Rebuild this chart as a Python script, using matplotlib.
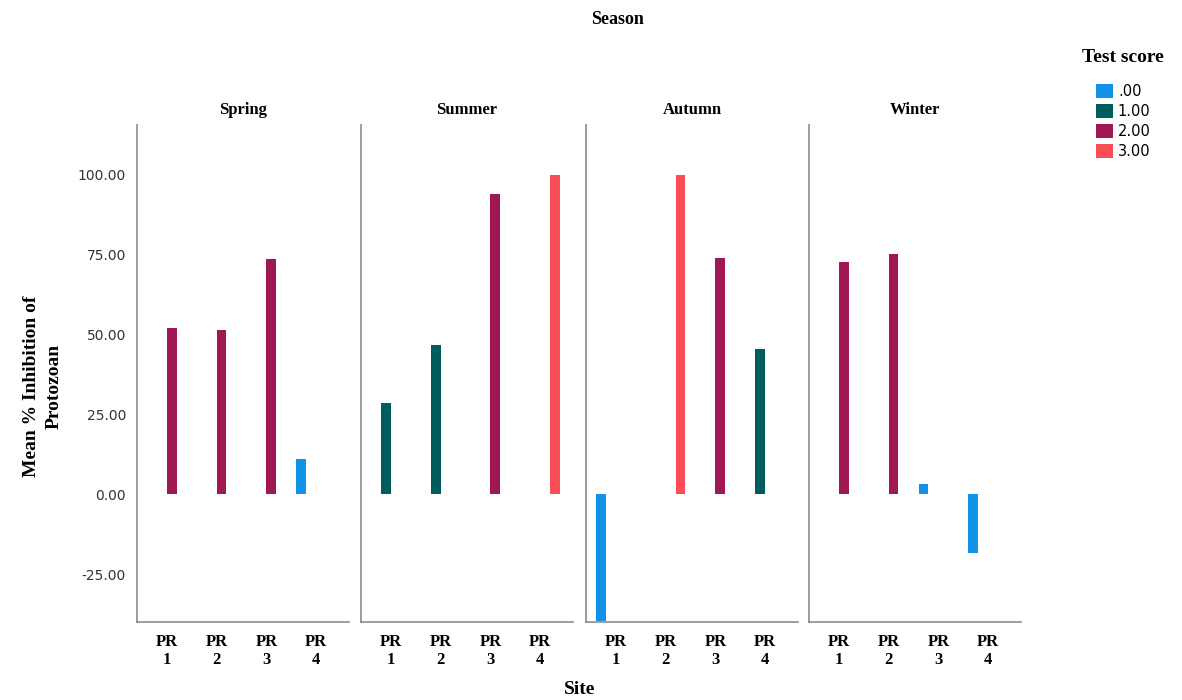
import matplotlib
matplotlib.use("Agg")
import matplotlib.pyplot as plt
from matplotlib.patches import Patch

seasons = ["Spring", "Summer", "Autumn", "Winter"]
sites = ["PR\n1", "PR\n2", "PR\n3", "PR\n4"]
score_labels = [".00", "1.00", "2.00", "3.00"]
score_colors = ["#1192e8", "#005d5d", "#9f1853", "#fa4d56"]

# Test score of each site, per season
spring_scores = [2, 2, 2, 0]
summer_scores = [1, 1, 2, 3]
autumn_scores = [0, 3, 2, 1]
winter_scores = [2, 2, 0, 0]

# Mean % inhibition of each site, per season
spring_values = [52.0, 51.5, 73.5, 11.0]
summer_values = [28.5, 46.8, 94.0, 100.0]
autumn_values = [-39.7, 100.0, 74.0, 45.5]
winter_values = [72.5, 75.0, 3.2, -18.5]

season_scores = [spring_scores, summer_scores, autumn_scores, winter_scores]
season_values = [spring_values, summer_values, autumn_values, winter_values]

W, H = 1182, 700
fig = plt.figure(figsize=(W / 100, H / 100), dpi=100)

serif = "Liberation Serif"
sans = "DejaVu Sans"

panel_left = [137, 361, 586, 809]
panel_w = 212
ax_bottom_px, ax_top_px = 622, 125

slot = 0.2
offsets = [-1.5 * slot, -0.5 * slot, 0.5 * slot, 1.5 * slot]

axes = []
for i, season in enumerate(seasons):
    ax = fig.add_axes([panel_left[i] / W, 1 - ax_bottom_px / H,
                       panel_w / W, (ax_bottom_px - ax_top_px) / H])
    axes.append(ax)
    xs = list(range(1, len(sites) + 1))
    for x, s, v in zip(xs, season_scores[i], season_values[i]):
        ax.bar(x + offsets[s], v, width=slot * 0.98, color=score_colors[s],
               linewidth=0)
    ax.set_xlim(0.4, 4.66)
    ax.set_ylim(-40, 115.5)
    ax.set_xticks(xs)
    ax.set_xticklabels(sites, fontfamily=serif, fontweight="bold",
                       fontsize=12, linespacing=1.15)
    ax.tick_params(axis="x", length=0, pad=9)
    ax.tick_params(axis="y", length=0)
    for side in ("top", "right"):
        ax.spines[side].set_visible(False)
    for side in ("left", "bottom"):
        ax.spines[side].set_color("#8c8c8c")
        ax.spines[side].set_linewidth(1.2)
    ax.set_title(season, fontfamily=serif, fontweight="bold", fontsize=12,
                 pad=8)
    if i == 0:
        ax.set_yticks([-25, 0, 25, 50, 75, 100])
        ax.set_yticklabels([f"{t:.2f}" for t in [-25, 0, 25, 50, 75, 100]],
                           fontfamily=sans, fontsize=10, color="#333333")
        ax.tick_params(axis="y", pad=8)
    else:
        ax.set_yticks([])

fig.text(617 / W, 1 - 20 / H, "Season", ha="center", va="center",
         fontfamily=serif, fontweight="bold", fontsize=13)
fig.text(580 / W, 1 - 689 / H, "Site", ha="center", va="center",
         fontfamily=serif, fontweight="bold", fontsize=14)
fig.text(43 / W, 1 - 386 / H, "Mean % Inhibition of\nProtozoan", ha="center",
         va="center", rotation=90, fontfamily=serif, fontweight="bold",
         fontsize=14, linespacing=1.4)

# Legend: title placed on its own, entries below it
fig.text(1123 / W, 1 - 58 / H, "Test score", ha="center", va="center",
         fontfamily=serif, fontweight="bold", fontsize=14)
handles = [Patch(facecolor=c, edgecolor="none") for c in score_colors]
leg = fig.legend(handles, score_labels, loc="upper left",
                 bbox_to_anchor=(1096 / W, 1 - 84 / H), frameon=False,
                 handlelength=1.15, handleheight=1.15,
                 handletextpad=0.35, labelspacing=0.32, borderaxespad=0,
                 borderpad=0, prop={"family": sans, "size": 10.5})

fig.savefig("out.png", dpi=100, facecolor="white")
